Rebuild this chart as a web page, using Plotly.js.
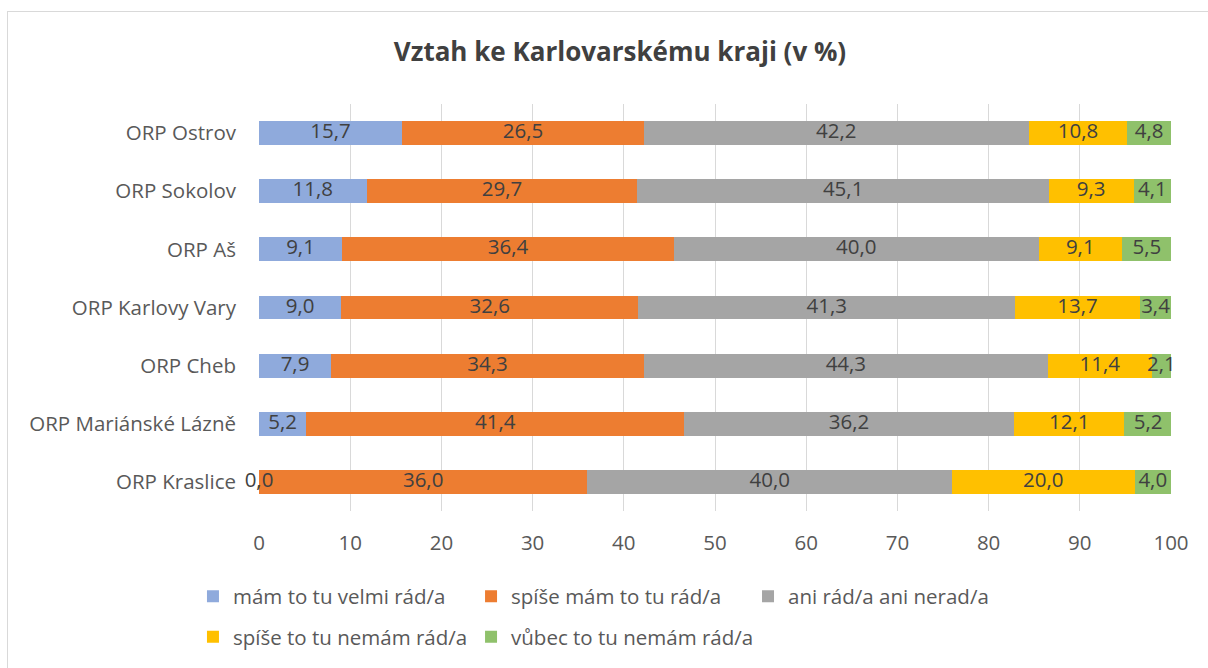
<!DOCTYPE html>
<html>
<head>
<meta charset="utf-8">
<script src="https://cdn.plot.ly/plotly-3.0.1.min.js"></script>
<style>
html,body{margin:0;padding:0;background:#fff;}
#frame{position:absolute;left:7px;top:11px;width:1210px;height:670px;border:1px solid #d9d9d9;box-sizing:border-box;}
#chart{position:absolute;left:0;top:0;width:1208px;height:668px;}
</style>
</head>
<body>
<div id="frame"></div>
<div id="chart"></div>
<script>
const categories = ["ORP Ostrov","ORP Sokolov","ORP Aš","ORP Karlovy Vary","ORP Cheb","ORP Mariánské Lázně","ORP Kraslice"];
const seriesNames = ["mám to tu velmi rád/a","spíše mám to tu rád/a","ani rád/a ani nerad/a","spíše to tu nemám rád/a","vůbec to tu nemám rád/a"];
const velmiRad   = [15.7, 11.8,  9.1,  9.0,  7.9,  5.2,  0.0];
const spiseRad   = [26.5, 29.7, 36.4, 32.6, 34.3, 41.4, 36.0];
const aniRad     = [42.2, 45.1, 40.0, 41.3, 44.3, 36.2, 40.0];
const spiseNerad = [10.8,  9.3,  9.1, 13.7, 11.4, 12.1, 20.0];
const vubecNerad = [ 4.8,  4.1,  5.5,  3.4,  2.1,  5.2,  4.0];
const seriesValues = [velmiRad, spiseRad, aniRad, spiseNerad, vubecNerad];
const colors = ["#8faadc","#ed7d31","#a5a5a5","#ffc000","#8fc16b"];
const xTicks = [0,10,20,30,40,50,60,70,80,90,100];

const FONT = "'Open Sans', sans-serif";
const FS = 20.5;
const legendIds = ["legend","legend2","legend3","legend4","legend5"];
const traces = seriesValues.map((vals, i) => ({
  type: "bar",
  orientation: "h",
  name: seriesNames[i],
  x: vals,
  y: categories,
  marker: {color: colors[i], line: {width: 0}},
  textposition: "none",
  hoverinfo: "x+y+name",
  legend: legendIds[i]
}));

// data labels: centred on each stacked segment
const starts = categories.map(() => 0);
seriesValues.forEach((vals, i) => {
  const mids = vals.map((v, j) => starts[j] + v / 2);
  vals.forEach((v, j) => { starts[j] += v; });
  traces.push({
    type: "scatter",
    mode: "text",
    x: mids,
    y: categories,
    customdata: vals,
    texttemplate: "%{customdata:.1f}",
    textposition: "middle center",
    textfont: {family: FONT, size: FS, color: "#404040"},
    cliponaxis: false,
    showlegend: false,
    hoverinfo: "skip"
  });
});

// legend placement: 3 entries in the first row, 2 in the second
const legendX = [-0.0724, 0.2325, 0.5362, -0.0724, 0.2325];
const legendY = [-0.207, -0.207, -0.207, -0.306, -0.306];

const layout = {
  width: 1208, height: 668,
  paper_bgcolor: "rgba(0,0,0,0)",
  plot_bgcolor: "rgba(0,0,0,0)",
  separators: ", ",
  barmode: "stack",
  bargap: 0.59,
  margin: {l: 259, r: 37, t: 104, b: 156},
  font: {family: FONT, size: FS, color: "#595959"},
  title: {
    text: "<b>Vztah ke Karlovarskému kraji (v %)</b>",
    font: {family: FONT, size: 26, color: "#404040"},
    x: 620/1208, xref: "container", xanchor: "center",
    y: 1 - 52/668, yref: "container", yanchor: "middle"
  },
  xaxis: {
    range: [0, 100],
    tickvals: xTicks,
    ticktext: xTicks.map(String),
    showgrid: true, gridcolor: "#d9d9d9", gridwidth: 1,
    zeroline: false, showline: false,
    ticks: "", ticklabelstandoff: 17,
    tickfont: {family: FONT, size: FS, color: "#595959"},
    fixedrange: true
  },
  yaxis: {
    type: "category",
    categoryorder: "array",
    categoryarray: categories,
    autorange: "reversed",
    showgrid: false, zeroline: false,
    showline: false,
    ticks: "", ticklabelstandoff: 22,
    tickfont: {family: FONT, size: FS, color: "#595959"},
    fixedrange: true
  },
  showlegend: true
};
legendIds.forEach((id, i) => {
  layout[id] = {
    orientation: "h", x: legendX[i], xanchor: "left", y: legendY[i], yanchor: "middle",
    font: {family: FONT, size: FS, color: "#595959"},
    itemwidth: 30, bgcolor: "rgba(0,0,0,0)"
  };
});

Plotly.newPlot("chart", traces, layout, {displayModeBar: false, staticPlot: true});
</script>
</body>
</html>
